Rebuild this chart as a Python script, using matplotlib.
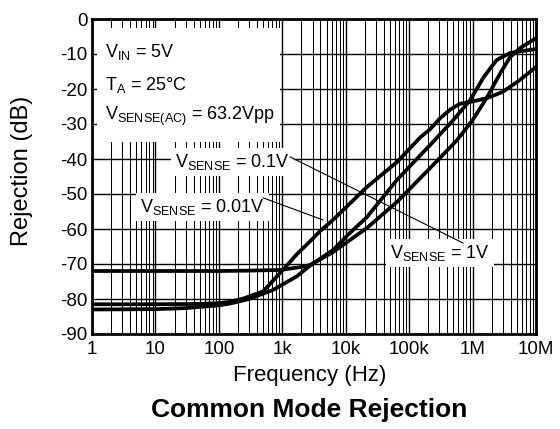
import matplotlib
matplotlib.use('Agg')
import matplotlib.pyplot as plt
from matplotlib.patches import Rectangle
from matplotlib.ticker import LogLocator, NullFormatter

plt.rcParams['font.family'] = ['Liberation Sans', 'DejaVu Sans']
plt.rcParams['mathtext.fontset'] = 'custom'
plt.rcParams['mathtext.rm'] = 'Liberation Sans'
plt.rcParams['mathtext.it'] = 'Liberation Sans:italic'
plt.rcParams['mathtext.bf'] = 'Liberation Sans:bold'

# ---- data ----
freq_a = [1, 10, 50, 100, 150, 250, 500, 930, 1700, 2750, 4000, 6300, 21600, 64000,
          150000, 214000, 309000, 450000, 637000, 920000, 1.7e6, 3.0e6, 5.6e6, 1e7]
rej_a = [-81.5, -81.5, -81.4, -81.2, -80.8, -79.8, -77.8, -72.5, -67.2, -63.5, -60.5, -57.4, -48.0, -40.9,
         -33.8, -31.5, -28.3, -25.8, -24.2, -23.7, -22.6, -20.8, -17.4, -13.7]

freq_b = [1, 10, 30, 100, 150, 300, 716, 1700, 2730, 6300, 11700, 21600, 64000, 214000,
          496000, 920000, 1.5e6, 2.4e6, 3.9e6, 6.3e6, 1e7]
rej_b = [-83.0, -82.9, -82.6, -81.8, -81.3, -80.0, -77.4, -73.5, -70.5, -66.0, -61.1, -56.6, -46.0, -36.0,
         -28.9, -23.1, -16.6, -11.7, -9.7, -9.1, -8.6]

freq_c = [1, 100, 300, 930, 1900, 2730, 6300, 21600, 64000, 214000, 570000, 1.0e6, 1.7e6,
          2.75e6, 3.9e6, 5.6e6, 1e7]
rej_c = [-72.0, -72.0, -71.9, -71.7, -70.9, -70.3, -66.6, -59.7, -52.3, -42.6, -34.6, -28.9, -22.3,
         -15.4, -10.9, -8.3, -5.5]

xticks = [1, 10, 100, 1e3, 1e4, 1e5, 1e6, 1e7]
xtick_labels = ['1', '10', '100', '1k', '10k', '100k', '1M', '10M']
yticks = [0, -10, -20, -30, -40, -50, -60, -70, -80, -90]
ytick_labels = ['0', '-10', '-20', '-30', '-40', '-50', '-60', '-70', '-80', '-90']

fig = plt.figure(figsize=(5.6, 4.29), dpi=100)
ax = fig.add_axes([92 / 560, 95 / 429, 444 / 560, 315 / 429])
ax.set_xscale('log')
ax.set_xlim(1, 1e7)
ax.set_ylim(-90, 0)
ax.set_xticks(xticks)
ax.set_xticklabels(xtick_labels)
ax.xaxis.set_minor_locator(LogLocator(base=10, subs=range(2, 10), numticks=40))
ax.xaxis.set_minor_formatter(NullFormatter())
ax.set_yticks(yticks)
ax.set_yticklabels(ytick_labels)
ax.tick_params(which='both', length=0, labelsize=13.5, colors='black')
ax.tick_params(axis='x', pad=5)
ax.tick_params(axis='y', pad=3)
ax.set_axisbelow(True)
ax.grid(which='major', color='black', lw=1.0)
ax.grid(which='minor', axis='x', color='black', lw=0.75)
for s in ax.spines.values():
    s.set_linewidth(2)
    s.set_zorder(5)

# white box behind the conditions text
ax.add_patch(Rectangle((1.2, -35.1), 920 - 1.2, 32.5, facecolor='white', edgecolor='none', zorder=1.5))

for f, r in [(freq_a, rej_a), (freq_b, rej_b), (freq_c, rej_c)]:
    ax.plot(f, r, color='black', lw=2.7, solid_capstyle='round', solid_joinstyle='round', zorder=3)

fs = 13
ax.text(1.6, -10.9, r'V$_{\mathrm{IN}}$ = 5V', fontsize=fs, va='baseline', ha='left', zorder=4)
ax.text(1.6, -20.3, r'T$_{\mathrm{A}}$ = 25°C', fontsize=fs, va='baseline', ha='left', zorder=4)
ax.text(1.6, -28.9, r'V$_{\mathrm{SENSE(AC)}}$ = 63.2Vpp', fontsize=fs, va='baseline', ha='left', zorder=4)

box = dict(facecolor='white', edgecolor='none', pad=3)
ax.text(10 ** ((175 - 92) / 63.43), -(167 - 19) / 3.5, r'V$_{\mathrm{SENSE}}$ = 0.1V', fontsize=fs,
        va='baseline', ha='left', bbox=box, zorder=4)
ax.text(10 ** ((140 - 92) / 63.43), -(212 - 19) / 3.5, r'V$_{\mathrm{SENSE}}$ = 0.01V', fontsize=fs,
        va='baseline', ha='left', bbox=box, zorder=4)
ax.text(10 ** ((390 - 92) / 63.43), -(258 - 19) / 3.5, r'V$_{\mathrm{SENSE}}$ = 1V', fontsize=fs,
        va='baseline', ha='left', bbox=box, zorder=4)

# leader lines
ax.plot([1324, 706e3], [-39.4, -64.0], color='black', lw=0.8, zorder=4.5)
ax.plot([497, 4380], [-51.1, -57.4], color='black', lw=0.8, zorder=4.5)

fig.text(22 / 560, 1 - 171 / 429, 'Rejection (dB)', rotation=90, fontsize=17, ha='center', va='center')
fig.text(310 / 560, 1 - 375 / 429, 'Frequency (Hz)', fontsize=16, ha='center', va='center')
fig.text(309 / 560, 1 - 410 / 429, 'Common Mode Rejection', fontsize=19, fontweight='bold',
         ha='center', va='center')

fig.savefig('out.png', dpi=100)
